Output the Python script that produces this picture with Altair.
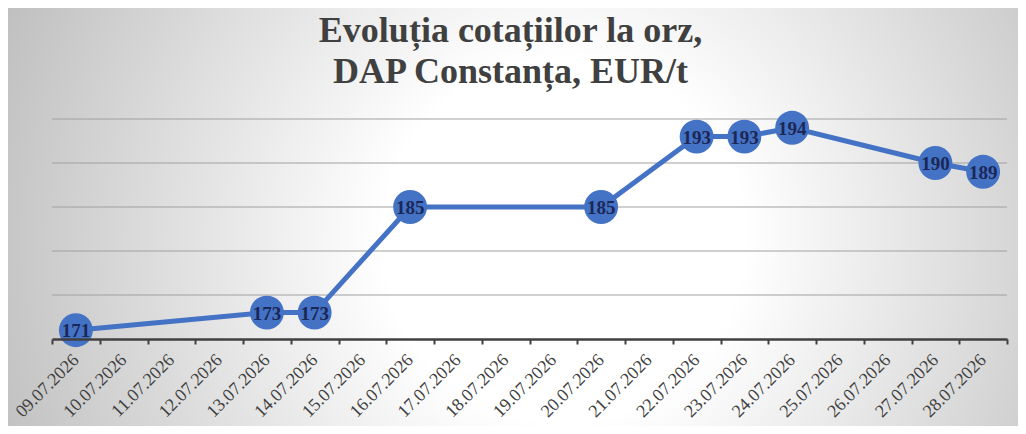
import json
import altair as alt
import pandas as pd

# ---- data -----------------------------------------------------------------
dates = ["09.07.2026", "10.07.2026", "11.07.2026", "12.07.2026", "13.07.2026",
         "14.07.2026", "15.07.2026", "16.07.2026", "17.07.2026", "18.07.2026",
         "19.07.2026", "20.07.2026", "21.07.2026", "22.07.2026", "23.07.2026",
         "24.07.2026", "25.07.2026", "26.07.2026", "27.07.2026", "28.07.2026"]
point_dates = ["09.07.2026", "13.07.2026", "14.07.2026", "16.07.2026", "20.07.2026",
               "22.07.2026", "23.07.2026", "24.07.2026", "27.07.2026", "28.07.2026"]
prices = [171, 173, 173, 185, 185, 193, 193, 194, 190, 189]
grid_values = [175, 180, 185, 190, 195]
y_domain = [170, 195]
title_lines = ["Evoluția cotațiilor la orz,", "\u00a0DAP Constanța, EUR/t"]

df = pd.DataFrame({
    "date": point_dates,
    "price": prices,
    "idx": [dates.index(d) for d in point_dates],
})
grid_df = pd.DataFrame({"g": grid_values})
bg_df = pd.DataFrame({"k": [0]})

# ---- layout ---------------------------------------------------------------
W, H = 955, 220
PAD = {"left": 44, "top": 111, "right": 11, "bottom": 87}
n = len(dates)
half_band = W / n / 2

BLUE = "#4472C4"
SERIF = "Liberation Serif"

label_expr = (f"datum.value > {n - 1} ? '' : "
              f"{json.dumps(dates)}[round(datum.value + 0.5)]")

x_enc = alt.X(
    "idx:Q",
    scale=alt.Scale(domain=[-0.5, n - 0.5], nice=False, zero=False),
    axis=alt.Axis(
        values=[i - 0.5 for i in range(n + 1)],
        labelExpr=label_expr,
        labelOffset=half_band,
        labelAngle=315,
        labelAlign="right",
        labelBaseline="middle",
        labelFont=SERIF,
        labelFontSize=18,
        labelColor="#404040",
        labelPadding=13,
        labelFlush=False,
        labelOverlap=False,
        labelBound=False,
        tickSize=5,
        tickWidth=2,
        tickColor="#404040",
        domainColor="#404040",
        domainWidth=2.5,
        grid=False,
        title=None,
        zindex=1,
    ),
)
y_scale = alt.Scale(domain=y_domain, nice=False, zero=False)
y_enc = alt.Y("price:Q", scale=y_scale, axis=None)

gradient = {
    "gradient": "radial",
    "x1": 0.55, "y1": 0.523, "r1": 0,
    "x2": 0.55, "y2": 0.523, "r2": 0.594,
    "stops": [
        {"offset": 0, "color": "#ffffff"},
        {"offset": 0.3, "color": "#ffffff"},
        {"offset": 1, "color": "#c0c0c0"},
    ],
}

bg = alt.Chart(bg_df).mark_rect(fill=gradient, stroke=None).encode(
    x=alt.value(-PAD["left"]),
    x2=alt.value(W + PAD["right"]),
    y=alt.value(-PAD["top"]),
    y2=alt.value(H + PAD["bottom"]),
)

grid = alt.Chart(grid_df).mark_rule(color="#a0a0a0", strokeWidth=1).encode(
    y=alt.Y("g:Q", scale=y_scale, axis=None)
)

base = alt.Chart(df).encode(x=x_enc, y=y_enc)

line = base.mark_line(color=BLUE, strokeWidth=5)
dots = base.mark_circle(color=BLUE, opacity=1, size=1150)
labels = base.mark_text(
    font=SERIF, fontSize=19, fontWeight="bold", color="#1b2756",
    baseline="middle", dy=1,
).encode(text="price:Q")

chart = alt.layer(bg, grid, line, dots, labels).properties(
    width=W,
    height=H,
    autosize=alt.AutoSizeParams(type="none"),
    padding=PAD,
    background="#ffffff",
    title=alt.TitleParams(
        text=title_lines,
        font=SERIF,
        fontSize=36,
        fontWeight="bold",
        color="#404040",
        anchor="middle",
        dx=-19,
        lineHeight=41,
        offset=-83,
    ),
).configure_view(stroke=None)

chart.save("out.html", embed_options={"renderer": "svg", "actions": False})
